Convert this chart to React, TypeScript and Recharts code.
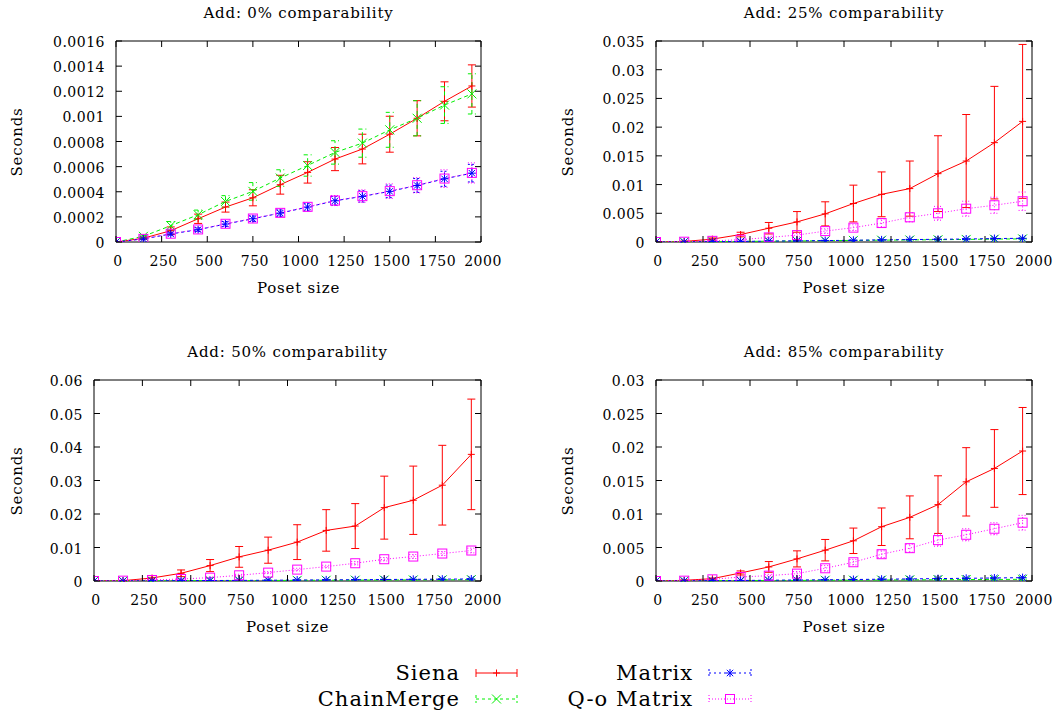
import React from 'react';
import { LineChart, Line, XAxis, YAxis, ErrorBar, ReferenceArea } from 'recharts';

// ---------- data ----------
const posetSizes = [0, 150, 300, 450, 600, 750, 900, 1050, 1200, 1350, 1500, 1650, 1800, 1950];
const xTicks = [0, 250, 500, 750, 1000, 1250, 1500, 1750, 2000];

// Add: 0% comparability
const siena0 = [0, 0.00003, 0.00009, 0.000185, 0.000278, 0.000352, 0.000456, 0.000554, 0.00066, 0.00074, 0.000858, 0.000985, 0.00112, 0.001242];
const siena0Err = [0, 0.00001, 0.00003, 0.000037, 0.00004, 0.000064, 0.000075, 0.000085, 0.000092, 0.000118, 0.000143, 0.00014, 0.000155, 0.000168];
const chain0 = [0, 0.000045, 0.00013, 0.000217, 0.000323, 0.000403, 0.000509, 0.000609, 0.000713, 0.000787, 0.000893, 0.000985, 0.00109, 0.001179];
const chain0Err = [0, 0.00001, 0.000033, 0.000037, 0.000046, 0.00007, 0.000066, 0.000085, 0.000093, 0.000112, 0.000139, 0.00014, 0.000146, 0.00016];
const matrix0 = [0, 0.000024, 0.000064, 0.000098, 0.000143, 0.000185, 0.00023, 0.000278, 0.000328, 0.000363, 0.000403, 0.00045, 0.000503, 0.000548];
const matrix0Err = [0, 0.000005, 0.00001, 0.000015, 0.00002, 0.000022, 0.000025, 0.00003, 0.000035, 0.000045, 0.00005, 0.000055, 0.00006, 0.00007];
const qo0 = [0, 0.000025, 0.000066, 0.0001, 0.000145, 0.000187, 0.000232, 0.00028, 0.00033, 0.000365, 0.000405, 0.000452, 0.000505, 0.00055];
const qo0Err = [0, 0.000006, 0.000012, 0.000017, 0.000022, 0.000025, 0.00003, 0.000035, 0.00004, 0.00005, 0.000058, 0.00006, 0.00007, 0.00008];

// Add: 25% comparability
const siena25 = [0, 0.0001, 0.0005, 0.0013, 0.0024, 0.0035, 0.0049, 0.0067, 0.0083, 0.0093, 0.0119, 0.0141, 0.0173, 0.021];
const siena25Err = [0, 0.00005, 0.0002, 0.0004, 0.001, 0.0018, 0.0021, 0.0032, 0.0039, 0.0048, 0.0066, 0.0081, 0.0098, 0.0134];
const chain25 = [0, 0.00002, 0.00005, 0.0001, 0.00014, 0.00018, 0.00023, 0.00028, 0.00032, 0.00036, 0.0004, 0.00045, 0.0005, 0.00055];
const chain25Err = [0, 0.00001, 0.00001, 0.00002, 0.00002, 0.00003, 0.00003, 0.00004, 0.00004, 0.00005, 0.00005, 0.00006, 0.00006, 0.00007];
const matrix25 = [0, 0.00002, 0.00006, 0.0001, 0.00015, 0.0002, 0.00025, 0.0003, 0.00037, 0.00042, 0.00047, 0.00052, 0.0006, 0.00064];
const matrix25Err = [0, 0.00001, 0.00001, 0.00002, 0.00003, 0.00003, 0.00004, 0.00005, 0.00005, 0.00006, 0.00007, 0.00008, 0.00009, 0.0001];
const qo25 = [0, 0.00005, 0.0002, 0.0004, 0.0008, 0.0012, 0.0019, 0.0025, 0.0033, 0.0043, 0.005, 0.0058, 0.0064, 0.0071];
const qo25Err = [0, 0.00002, 0.00005, 0.0001, 0.0002, 0.0003, 0.0004, 0.0005, 0.0007, 0.0008, 0.0012, 0.0013, 0.0014, 0.0016];

// Add: 50% comparability
const siena50 = [0, 0.0001, 0.0009, 0.0023, 0.0046, 0.0072, 0.0092, 0.0116, 0.0151, 0.0164, 0.0219, 0.0241, 0.0286, 0.0378];
const siena50Err = [0, 0.0001, 0.0007, 0.001, 0.0018, 0.0031, 0.0039, 0.0052, 0.0062, 0.0067, 0.0094, 0.0102, 0.0119, 0.0165];
const chain50 = [0, 0.00002, 0.00004, 0.00007, 0.0001, 0.00013, 0.00016, 0.0002, 0.00023, 0.00026, 0.0003, 0.00033, 0.00036, 0.0004];
const chain50Err = [0, 0.00001, 0.00001, 0.00002, 0.00002, 0.00003, 0.00003, 0.00004, 0.00004, 0.00005, 0.00005, 0.00006, 0.00006, 0.00007];
const matrix50 = [0, 0.00002, 0.00005, 0.0001, 0.00014, 0.00018, 0.00023, 0.00028, 0.00033, 0.00038, 0.00045, 0.0005, 0.00055, 0.0006];
const matrix50Err = [0, 0.00001, 0.00001, 0.00002, 0.00003, 0.00003, 0.00004, 0.00005, 0.00005, 0.00006, 0.00007, 0.00008, 0.00009, 0.0001];
const qo50 = [0, 0.0001, 0.0003, 0.0006, 0.001, 0.0017, 0.0025, 0.0034, 0.0043, 0.0053, 0.0065, 0.0073, 0.0082, 0.0091];
const qo50Err = [0, 0.00003, 0.0001, 0.0001, 0.0002, 0.0003, 0.0003, 0.0004, 0.0004, 0.0005, 0.0005, 0.0006, 0.0006, 0.0007];

// Add: 85% comparability
const siena85 = [0, 0.0001, 0.00035, 0.0012, 0.0021, 0.0033, 0.0046, 0.006, 0.0081, 0.0095, 0.0114, 0.0148, 0.0168, 0.0194];
const siena85Err = [0, 0.00005, 0.0001, 0.0003, 0.0008, 0.0012, 0.0016, 0.0019, 0.0028, 0.0032, 0.0043, 0.0051, 0.0058, 0.0065];
const chain85 = [0, 0.00001, 0.00003, 0.00005, 0.00007, 0.00009, 0.00011, 0.00013, 0.00015, 0.00017, 0.00019, 0.00021, 0.00023, 0.00025];
const chain85Err = [0, 0.00001, 0.00001, 0.00001, 0.00002, 0.00002, 0.00003, 0.00003, 0.00003, 0.00004, 0.00004, 0.00005, 0.00005, 0.00006];
const matrix85 = [0, 0.00002, 0.00005, 0.00008, 0.00011, 0.00015, 0.00018, 0.00022, 0.00027, 0.00031, 0.00036, 0.0004, 0.00045, 0.0005];
const matrix85Err = [0, 0.00001, 0.00001, 0.00002, 0.00002, 0.00003, 0.00003, 0.00004, 0.00005, 0.00005, 0.00006, 0.00007, 0.00008, 0.00009];
const qo85 = [0, 0.00005, 0.00025, 0.0006, 0.0008, 0.0011, 0.0019, 0.0028, 0.004, 0.0049, 0.0061, 0.0069, 0.0078, 0.0087];
const qo85Err = [0, 0.00002, 0.00005, 0.0001, 0.0002, 0.0003, 0.0004, 0.0004, 0.0005, 0.0006, 0.0009, 0.0009, 0.0009, 0.0011];

const yTicks0 = [0, 0.0002, 0.0004, 0.0006, 0.0008, 0.001, 0.0012, 0.0014, 0.0016];
const yLabels0 = ['0', '0.0002', '0.0004', '0.0006', '0.0008', '0.001', '0.0012', '0.0014', '0.0016'];
const yTicks25 = [0, 0.005, 0.01, 0.015, 0.02, 0.025, 0.03, 0.035];
const yLabels25 = ['0', '0.005', '0.01', '0.015', '0.02', '0.025', '0.03', '0.035'];
const yTicks50 = [0, 0.01, 0.02, 0.03, 0.04, 0.05, 0.06];
const yLabels50 = ['0', '0.01', '0.02', '0.03', '0.04', '0.05', '0.06'];
const yTicks85 = [0, 0.005, 0.01, 0.015, 0.02, 0.025, 0.03];
const yLabels85 = ['0', '0.005', '0.01', '0.015', '0.02', '0.025', '0.03'];

const seriesNames = ['Siena', 'ChainMerge', 'Matrix', 'Q-o Matrix'];

// ---------- styling ----------
const FONT = '"DejaVu Serif", serif';
const RED = '#ff0000';
const GREEN = '#00f000';
const BLUE = '#0000ff';
const MAGENTA = '#ff00ff';
const X_AXIS_H = 30;
const Y_AXIS_W = 60;

const buildRows = (s: number[], sE: number[], c: number[], cE: number[], m: number[], mE: number[], q: number[], qE: number[]) =>
  posetSizes.map((x, i) => ({
    size: x,
    siena: s[i], sienaErr: sE[i],
    chain: c[i], chainErr: cE[i],
    matrix: m[i], matrixErr: mE[i],
    qo: q[i], qoErr: qE[i],
  }));

// ---------- markers ----------
const PlusMark = ({ cx, cy, color, r = 3.5 }: any) => (
  <g stroke={color} strokeWidth={1} fill="none">
    <line x1={cx - r} x2={cx + r} y1={cy} y2={cy} />
    <line x1={cx} x2={cx} y1={cy - r} y2={cy + r} />
  </g>
);
const CrossMark = ({ cx, cy, color, r = 4.5 }: any) => (
  <g stroke={color} strokeWidth={1} fill="none">
    <line x1={cx - r} x2={cx + r} y1={cy - r} y2={cy + r} />
    <line x1={cx - r} x2={cx + r} y1={cy + r} y2={cy - r} />
  </g>
);
const StarMark = ({ cx, cy, color, r = 4 }: any) => (
  <g stroke={color} strokeWidth={1} fill="none">
    <line x1={cx - r} x2={cx + r} y1={cy} y2={cy} />
    <line x1={cx} x2={cx} y1={cy - r} y2={cy + r} />
    <line x1={cx - r * 0.8} x2={cx + r * 0.8} y1={cy - r * 0.8} y2={cy + r * 0.8} />
    <line x1={cx - r * 0.8} x2={cx + r * 0.8} y1={cy + r * 0.8} y2={cy - r * 0.8} />
  </g>
);
const SquareMark = ({ cx, cy, color, r = 4.5 }: any) => (
  <rect x={cx - r} y={cy - r} width={2 * r} height={2 * r} stroke={color} strokeWidth={1} fill="none" />
);

type Geom = { x: number; y: number; w: number; h: number; l: number; r: number; t: number; b: number };

const TextAt = ({ cx, cy, children, size = 15, rotate = false }: any) => (
  <div
    style={{
      position: 'absolute',
      left: cx,
      top: cy,
      transform: `translate(-50%, -50%)${rotate ? ' rotate(-90deg)' : ''}`,
      whiteSpace: 'nowrap',
      fontFamily: FONT,
      fontSize: size,
      letterSpacing: 0.8,
      color: '#000',
      lineHeight: 1,
    }}
  >
    {children}
  </div>
);

const Panel = ({ title, rows, yTicks, yLabels, geom }: { title: string; rows: any[]; yTicks: number[]; yLabels: string[]; geom: Geom }) => {
  const top = geom.t - geom.y;
  const bottom = geom.b - geom.y;
  const left = geom.l - geom.x;
  const right = geom.r - geom.x;
  const margin = { top, left: left - Y_AXIS_W, right: geom.w - right, bottom: geom.h - bottom - X_AXIS_H };
  const yMax = yTicks[yTicks.length - 1];
  const TL = 6;

  const xTick = (p: any) => (
    <g key={`xt-${p.index}`}>
      <line x1={p.x} x2={p.x} y1={bottom} y2={bottom - TL} stroke="#000" />
      <line x1={p.x} x2={p.x} y1={top} y2={top + TL} stroke="#000" />
      <text x={p.x + 2} y={bottom + 19} textAnchor="middle" dominantBaseline="central" fontFamily={FONT} fontSize={14} letterSpacing={0.5} fill="#000">
        {p.payload.value}
      </text>
    </g>
  );
  const yTick = (p: any) => (
    <g key={`yt-${p.index}`}>
      <line x1={left} x2={left + TL} y1={p.y} y2={p.y} stroke="#000" />
      <line x1={right} x2={right - TL} y1={p.y} y2={p.y} stroke="#000" />
      <text x={left - 11} y={p.y + 1} textAnchor="end" dominantBaseline="central" fontFamily={FONT} fontSize={14} letterSpacing={0.5} fill="#000">
        {yLabels[p.index]}
      </text>
    </g>
  );

  return (
    <>
      <div style={{ position: 'absolute', left: geom.x, top: geom.y }}>
        <LineChart width={geom.w} height={geom.h} data={rows} margin={margin}>
          <XAxis dataKey="size" type="number" domain={[0, 2000]} ticks={xTicks} interval={0} allowDataOverflow height={X_AXIS_H} axisLine={false} tickLine={false} tick={xTick} />
          <YAxis type="number" domain={[0, yMax]} ticks={yTicks} interval={0} allowDataOverflow width={Y_AXIS_W} axisLine={false} tickLine={false} tick={yTick} />
          <Line dataKey="siena" stroke={RED} strokeWidth={1} isAnimationActive={false} activeDot={false}
            dot={(p: any) => <PlusMark key={`s-${p.index}`} cx={p.cx} cy={p.cy} color={RED} />}>
            <ErrorBar dataKey="sienaErr" direction="y" width={4} stroke={RED} strokeWidth={1} isAnimationActive={false} />
          </Line>
          <Line dataKey="chain" stroke={GREEN} strokeWidth={1} strokeDasharray="4 3" isAnimationActive={false} activeDot={false}
            dot={(p: any) => <CrossMark key={`c-${p.index}`} cx={p.cx} cy={p.cy} color={GREEN} />}>
            <ErrorBar dataKey="chainErr" direction="y" width={4} stroke={GREEN} strokeWidth={1} strokeDasharray="4 3" isAnimationActive={false} />
          </Line>
          <Line dataKey="matrix" stroke={BLUE} strokeWidth={1} strokeDasharray="3 3" isAnimationActive={false} activeDot={false}
            dot={(p: any) => <StarMark key={`m-${p.index}`} cx={p.cx} cy={p.cy} color={BLUE} />}>
            <ErrorBar dataKey="matrixErr" direction="y" width={4} stroke={BLUE} strokeWidth={1} strokeDasharray="2 2" isAnimationActive={false} />
          </Line>
          <Line dataKey="qo" stroke={MAGENTA} strokeWidth={1} strokeDasharray="1 2" isAnimationActive={false} activeDot={false}
            dot={(p: any) => <SquareMark key={`q-${p.index}`} cx={p.cx} cy={p.cy} color={MAGENTA} />}>
            <ErrorBar dataKey="qoErr" direction="y" width={4} stroke={MAGENTA} strokeWidth={1} strokeDasharray="1 2" isAnimationActive={false} />
          </Line>
          <ReferenceArea x1={0} x2={2000} y1={0} y2={yMax} fill="none" fillOpacity={0} stroke="#000" strokeWidth={1} ifOverflow="visible" />
        </LineChart>
      </div>
      <TextAt cx={(geom.l + geom.r) / 2} cy={geom.t - 28}>{title}</TextAt>
      <TextAt cx={(geom.l + geom.r) / 2} cy={geom.b + 46}>Poset size</TextAt>
      <TextAt cx={geom.x + (geom.x === 0 ? 17 : 28)} cy={(geom.t + geom.b) / 2} rotate>Seconds</TextAt>
    </>
  );
};

const LegendSample = ({ x1, x2, y, color, dash, Marker }: any) => (
  <g>
    <line x1={x1} x2={x2} y1={y} y2={y} stroke={color} strokeWidth={1} strokeDasharray={dash} />
    <line x1={x1} x2={x1} y1={y - 4} y2={y + 4} stroke={color} strokeWidth={1} strokeDasharray={dash} />
    <line x1={x2} x2={x2} y1={y - 4} y2={y + 4} stroke={color} strokeWidth={1} strokeDasharray={dash} />
    <Marker cx={(x1 + x2) / 2} cy={y} color={color} />
  </g>
);

const LegendText = ({ x, y, children }: any) => (
  <text x={x} y={y} textAnchor="end" dominantBaseline="central" fontFamily={FONT} fontSize={21} letterSpacing={1} fill="#000">
    {children}
  </text>
);

export default function App() {
  const rows0 = buildRows(siena0, siena0Err, chain0, chain0Err, matrix0, matrix0Err, qo0, qo0Err);
  const rows25 = buildRows(siena25, siena25Err, chain25, chain25Err, matrix25, matrix25Err, qo25, qo25Err);
  const rows50 = buildRows(siena50, siena50Err, chain50, chain50Err, matrix50, matrix50Err, qo50, qo50Err);
  const rows85 = buildRows(siena85, siena85Err, chain85, chain85Err, matrix85, matrix85Err, qo85, qo85Err);

  return (
    <div style={{ position: 'absolute', left: 0, top: 0, width: 1061, height: 720, background: '#fff', overflow: 'hidden' }}>
      <Panel title="Add: 0% comparability" rows={rows0} yTicks={yTicks0} yLabels={yLabels0}
        geom={{ x: 0, y: 0, w: 530, h: 300, l: 116, r: 481, t: 41, b: 242 }} />
      <Panel title="Add: 25% comparability" rows={rows25} yTicks={yTicks25} yLabels={yLabels25}
        geom={{ x: 540, y: 0, w: 521, h: 300, l: 656, r: 1032, t: 41, b: 242 }} />
      <Panel title="Add: 50% comparability" rows={rows50} yTicks={yTicks50} yLabels={yLabels50}
        geom={{ x: 0, y: 338, w: 530, h: 300, l: 94, r: 481, t: 380, b: 581 }} />
      <Panel title="Add: 85% comparability" rows={rows85} yTicks={yTicks85} yLabels={yLabels85}
        geom={{ x: 540, y: 338, w: 521, h: 300, l: 656, r: 1032, t: 380, b: 581 }} />
      <svg style={{ position: 'absolute', left: 0, top: 640 }} width={1061} height={80}>
        <LegendText x={460} y={33}>{seriesNames[0]}</LegendText>
        <LegendSample x1={476} x2={517} y={33} color={RED} dash={undefined} Marker={PlusMark} />
        <LegendText x={460} y={59}>{seriesNames[1]}</LegendText>
        <LegendSample x1={476} x2={517} y={59} color={GREEN} dash="3 3" Marker={CrossMark} />
        <LegendText x={693} y={33}>{seriesNames[2]}</LegendText>
        <LegendSample x1={709} x2={751} y={33} color={BLUE} dash="2 3" Marker={StarMark} />
        <LegendText x={693} y={59}>{seriesNames[3]}</LegendText>
        <LegendSample x1={709} x2={751} y={59} color={MAGENTA} dash="1 2" Marker={SquareMark} />
      </svg>
    </div>
  );
}
